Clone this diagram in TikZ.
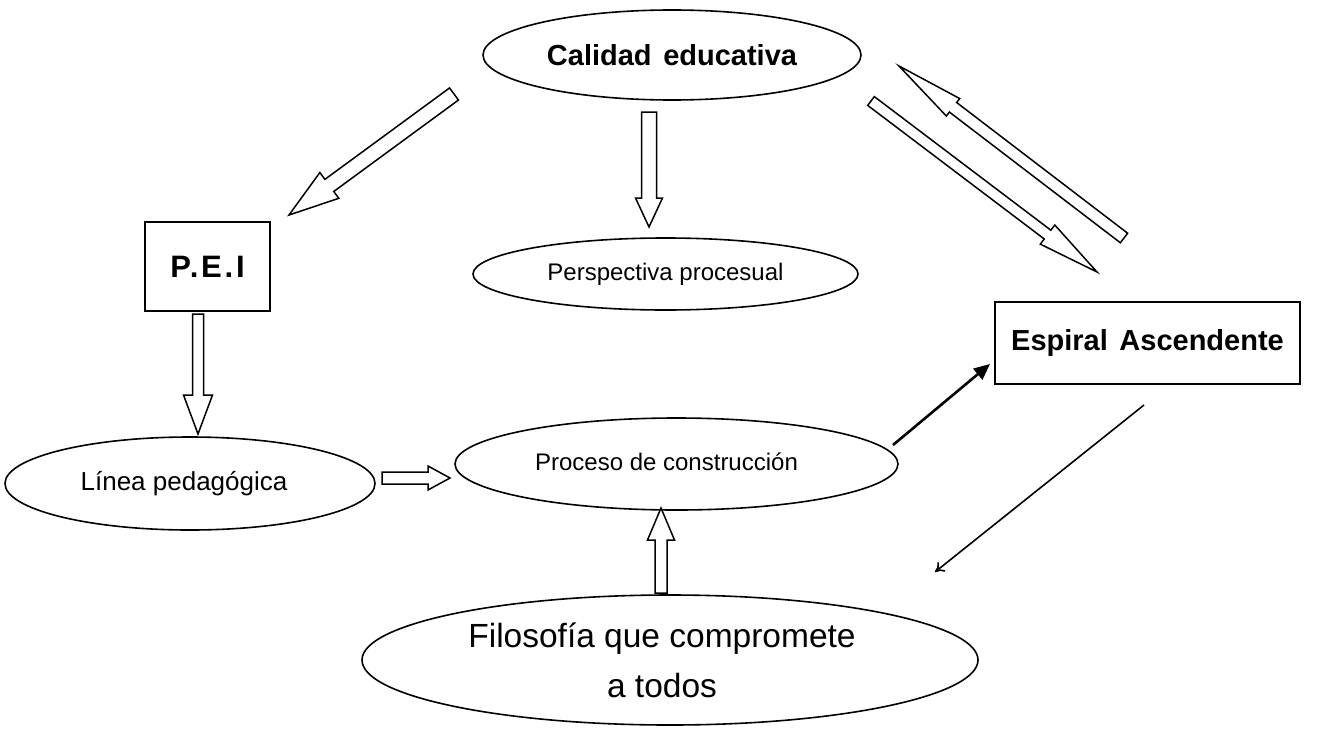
\documentclass[tikz,border=0pt]{standalone}
\usepackage{fontspec}
\setmainfont{Liberation Sans}
\usetikzlibrary{shapes.geometric,arrows.meta,calc}
\newcommand\drawblockarrow[5]{%
  \pgfpointdiff{\pgfpointanchor{#1}{center}}{\pgfpointanchor{#2}{center}}%
  \pgfgetlastxy{\bArDx}{\bArDy}%
  \pgfmathsetmacro\bArLen{veclen(\bArDx,\bArDy)}%
  \pgfmathsetmacro\bArAng{atan2(\bArDy,\bArDx)}%
  \pgfmathsetmacro\bArSw{#3/2}%
  \pgfmathsetmacro\bArHw{#4/2}%
  \pgfmathsetmacro\bArHb{\bArLen-#5}%
  \begin{scope}[shift={(#1)},rotate=\bArAng]
    \draw[blk] (0pt,-\bArSw pt) -- (\bArHb pt,-\bArSw pt) -- (\bArHb pt,-\bArHw pt)
      -- (\bArLen pt,0pt) -- (\bArHb pt,\bArHw pt) -- (\bArHb pt,\bArSw pt)
      -- (0pt,\bArSw pt) -- cycle;
  \end{scope}}
\begin{document}
\begin{tikzpicture}[x=1pt,y=-1pt,
  oval/.style={ellipse,draw,line width=1.6pt,inner sep=0pt,align=center},
  boxnode/.style={rectangle,draw,line width=1.6pt,inner sep=0pt,align=center},
  blk/.style={draw,line width=1.5pt,fill=white,line join=miter},
  bigbold/.style={font=\fontsize{29}{34}\selectfont\bfseries},
  normaltext/.style={font=\fontsize{24}{29}\selectfont},
  largetext/.style={font=\fontsize{33.5}{50}\selectfont}]
\useasboundingbox (0,0) rectangle (1321,728);
% nodes
\node[oval,bigbold,minimum width=378pt,minimum height=90pt] (cal) at (672,55) {Calidad\hspace{0.4em}educativa};
\node[boxnode,minimum width=125pt,minimum height=89pt,font=\fontsize{31}{36}\selectfont\bfseries] (pei) at (207.5,266.5) {\addfontfeature{LetterSpace=9}P.E.I};
\node[oval,normaltext,minimum width=385pt,minimum height=72pt] (per) at (665.5,274) {Perspectiva procesual};
\node[boxnode,bigbold,minimum width=305pt,minimum height=82pt] (esp) at (1147.5,343) {Espiral\hspace{0.4em}Ascendente};
\node[oval,minimum width=370pt,minimum height=93pt] (lin) at (190,483.5) {};
\node[font=\fontsize{26}{30}\selectfont] (lintext) at (lin.center) [xshift=-6pt] {Línea pedagógica};
\node[oval,minimum width=443pt,minimum height=92pt] (pro) at (676.5,464) {};
\node[normaltext] (protext) at (pro.center) [xshift=-10pt,yshift=2pt] {Proceso de construcción};
\node[oval,minimum width=616pt,minimum height=130pt] (fil) at (670,660) {};
\node[largetext,align=center] (filtext) at (fil.center) [xshift=-8pt] {Filosofía que compromete\\a todos};
% connector ends
\coordinate (a1s) at (454,94);   \coordinate (a1e) at (289,215);
\coordinate (a2s) at (649,112);  \coordinate (a2e) at (649,227);
\coordinate (a3s) at (871,101);  \coordinate (a3e) at (1097,272);
\coordinate (a4s) at (1124,238); \coordinate (a4e) at (899,66);
\coordinate (a5s) at (198,314);  \coordinate (a5e) at (198,434);
\coordinate (a6s) at (382,478);  \coordinate (a6e) at (450,478);
\coordinate (a7s) at (661,593);  \coordinate (a7e) at (661,508);
\coordinate (t1s) at (893,445);  \coordinate (t1e) at (990,364);
\coordinate (t2s) at (1144,405); \coordinate (t2e) at (935,572);
% block arrows
\drawblockarrow{a1s}{a1e}{15}{32}{50}
\drawblockarrow{a2s}{a2e}{15}{27}{29}
\drawblockarrow{a3s}{a3e}{11}{24}{62}
\drawblockarrow{a4s}{a4e}{12}{22}{68}
\drawblockarrow{a5s}{a5e}{11}{29}{39}
\drawblockarrow{a6s}{a6e}{12}{24}{22}
\drawblockarrow{a7s}{a7e}{12}{27}{32}
% thin arrows
\draw[line width=2.6pt,-{Triangle[length=16pt,width=14pt]}] (t1s) -- (t1e);
\draw[line width=1.6pt,-{To[length=9pt,width=12pt]}] (t2s) -- (t2e);
\end{tikzpicture}
\end{document}
